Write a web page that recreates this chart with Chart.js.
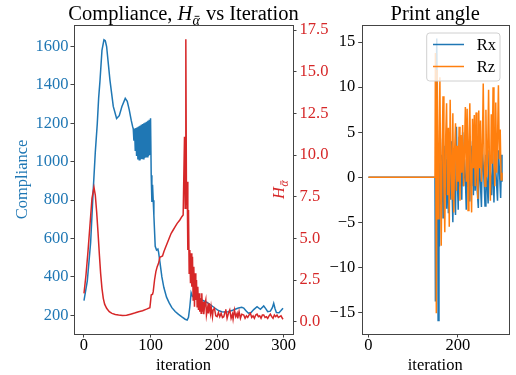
<!DOCTYPE html>
<html>
<head>
<meta charset="utf-8">
<script src="https://cdn.jsdelivr.net/npm/chart.js@4.4.0/dist/chart.umd.min.js"></script>
<style>
  body { margin: 0; background: #fff; }
  #wrap { position: relative; width: 516px; height: 375px; overflow: hidden; background: #fff; }
  canvas { position: absolute; top: 0; }
</style>
</head>
<body>
<div id="wrap">
  <canvas id="left" width="350" height="375" style="left:0"></canvas>
  <canvas id="right" width="198" height="375" style="left:318px"></canvas>
</div>
<script>
// values
const complianceIter = [0, 5, 10, 14, 17, 20, 22, 24, 27, 30, 32, 34, 39, 44, 49, 53, 57, 62, 65, 68, 71, 73,
  74, 75, 76, 77, 78, 79, 80, 81, 82, 83, 84, 85, 86, 87, 88, 89, 90, 91, 92, 93, 94, 95, 96, 97, 98, 99, 100,
  101, 102, 103, 104, 105, 107, 109, 111, 112, 114, 117, 120, 124, 128, 132, 137, 142, 147, 152, 155, 157, 159,
  161, 163, 167, 172, 177, 182, 187, 192, 197, 202, 207, 212, 217, 222, 227, 232, 237, 240, 243, 247, 251, 255,
  260, 265, 270, 273, 276, 280, 283, 285, 287, 289, 293, 296, 299];
const complianceVal = [277, 380, 580, 860, 1050, 1200, 1330, 1420, 1580, 1635, 1630, 1600, 1425, 1288, 1225, 1240, 1288, 1330, 1315, 1270, 1215, 1184,
  1172, 1110, 1173, 1060, 1176, 1030, 1180, 1012, 1184, 1010, 1188, 1012, 1192, 1014, 1196, 1016, 1200, 1019, 1204, 1022, 1208, 1026, 1213, 1030, 1218, 1035, 1226,
  930, 790, 880, 800, 720, 560, 540, 545, 530, 480, 400, 345, 295, 265, 240, 220, 205, 192, 180, 176, 190, 245,
  318, 300, 289, 290, 280, 272, 263, 250, 237, 225, 219, 217, 219, 225, 232, 238, 242, 238, 225, 211, 215, 230,
  245, 232, 249, 235, 219, 222, 240, 263, 235, 215, 214, 225, 237];

const hIter = [0, 3, 6, 9, 12, 15, 17, 19, 21, 23, 25, 27, 29, 31, 34, 38, 42, 47, 52, 58, 64, 70, 76, 82, 88, 94, 99,
  100, 101, 103, 104, 106, 108, 110, 112, 114, 116, 118, 120, 122, 125, 128, 131, 134, 137, 140, 144, 147, 149, 150,
  151, 152, 153, 154, 155, 156, 157, 158, 159, 160, 161, 162, 163, 164, 165, 166, 167, 168, 169, 170, 171, 172, 173,
  174, 175, 176, 177, 178, 179, 180, 181, 183, 184, 186, 187, 188, 190, 191, 193, 194, 196, 198, 200, 202, 204, 206,
  208, 210, 212, 213, 215, 217, 219, 221, 223, 224, 226, 228, 230, 231, 233, 235, 237, 240, 242, 244, 246, 248, 250,
  252, 254, 256, 258, 260, 262, 264, 266, 268, 270, 272, 274, 276, 278, 280, 282, 284, 286, 288, 290, 292, 294, 296,
  298, 299];
const hVal = [1.7, 2.8, 4.2, 5.8, 7.4, 8.06, 7.6, 6.6, 5.4, 4.1, 2.9, 2.0, 1.4, 1.05, 0.8, 0.6, 0.5, 0.43, 0.4, 0.37, 0.38, 0.45, 0.52, 0.6, 0.66, 0.75, 0.84,
  1.2, 1.6, 1.65, 1.8, 2.5, 3.0, 3.3, 3.5, 3.86, 3.9, 3.94, 4.2, 4.4, 4.7, 5.0, 5.3, 5.5, 5.7, 5.9, 6.1, 6.3, 6.4, 6.4,
  11.1, 6.8, 16.95, 7.0, 8.4, 4.3, 6.7, 2.9, 4.3, 2.3, 4.1, 2.1, 3.9, 1.3, 3.3, 0.9, 2.9, 1.3, 2.5, 0.9, 2.1, 0.7, 1.7,
  0.6, 1.4, 0.5, 1.7, 0.6, 1.2, 0.45, 0.9, 1.3, 0.4, 0.9, 0.5, 1.1, 0.5, 0.9, 0.3, 0.7, 0.8, 0.35, 0.3, 0.55, 0.3, 0.5,
  0.25, 0.3, 0.6, 0.74, 0.2, 0.5, 0.7, 0.2, 0.45, 0.15, 0.7, 0.3, 0.5, 0.2, 0.6, 0.2, 0.45, 0.4, 0.2, 0.35, 0.25, 0.4, 0.5,
  0.25, 0.35, 0.2, 0.4, 0.45, 0.3, 0.35, 0.2, 0.4, 0.4, 0.25, 0.3, 0.2, 0.35, 0.45, 0.3, 0.2, 0.4, 0.3, 0.4, 0.25, 0.3, 0.35,
  0.2, 0.15];

const rxIter = [0, 149, 150, 151, 153, 155, 156, 158, 159, 161, 163, 165, 167, 169, 171, 173, 175, 177, 179, 181, 183,
  185, 187, 189, 191, 193, 195, 197, 199, 201, 203, 205, 207, 209, 211, 213, 215, 217, 219, 221, 223, 225, 227, 229,
  231, 233, 235, 237, 239, 241, 243, 246, 248, 250, 253, 255, 258, 261, 263, 265, 268, 270, 273, 276, 278, 281, 283,
  286, 289, 291, 293, 296, 298, 299];
const rxVal = [0, 0, -13.7, 6, 15.4, -2, -15.9, 3, -7.7, 4.3, -3, 2.5, -4.5, 3.5, -2, 4.0, -3.5, 2, -4.0, 3, -2.5,
  4.0, -1, -5.0, 2.5, -2, -4.2, 5.6, 0, -3.6, 4.5, -1, 3, -2.5, 5.0, -1, 2, 0, -3.6, 3, -1, 2.5, -2.7, 3.5,
  -1, 4.0, -2, 3, -1.5, 4, -1, -3.4, 3, 0, -3.3, 3, 0.5, -3.2, 2.5, 0, -2.9, 3, 0.5, -2, 3, -2.8, 2,
  0, -2.6, 3, 1, -2.3, 2.5, -0.5];

const rzIter = [0, 149, 150, 152, 154, 156, 158, 160, 162, 163, 165, 167, 169, 171, 173, 175, 177, 179, 181, 183, 185,
  187, 189, 191, 193, 195, 197, 199, 201, 203, 205, 207, 209, 211, 213, 215, 217, 219, 221, 223, 225, 227, 229, 231,
  233, 235, 237, 239, 241, 243, 245, 247, 249, 251, 253, 255, 257, 259, 261, 263, 265, 267, 269, 271, 273, 275, 277,
  279, 281, 283, 285, 287, 289, 291, 293, 295, 297, 299];
const rzVal = [0, 0, 13.8, -15.1, 11.9, -4.6, 2.0, 11.1, -2.5, -7.6, 3.0, 9.0, -1.0, -6.1, 4.5, 8.2, -2.0, 5.5, -5.5, 8.6, 1.0,
  -2.5, 7.1, -3.9, 3.0, 6.0, -1.5, 3.5, -0.5, 5.6, -2.6, 4.7, 0.5, 5.8, -1.0, 3.0, 7.8, -0.5, 7.6, -3.7, 4.0, 8.2, 0.0, -3.9,
  6.5, 1.0, 6.9, -1.0, 7.2, 0.5, -2.4, 7.4, 1.0, 6.3, -0.5, 3.0, 10.4, 2.0, -1.0, 7.5, 0.0, 3.0, 9.7, 1.0, -2.6, 7.0, 1.5,
  10.0, 2.0, -1.0, 8.3, 0.5, 4.0, 10.2, 2.0, 5.3, -0.3, 0.5];

// tick labels
const xTicksLeft = [0, 100, 200, 300];
const xTicksRight = [0, 200];
const complianceTicks = [200, 400, 600, 800, 1000, 1200, 1400, 1600];
const hTicks = [0, 2.5, 5, 7.5, 10, 12.5, 15, 17.5];
const angleTicks = [-15, -10, -5, 0, 5, 10, 15];

const blue = '#1f77b4', red = '#d62728', orange = '#ff7f0e', frameColor = '#444';
const fam = '"Liberation Serif", "Times New Roman", serif';

Chart.defaults.font.family = fam;
Chart.defaults.animation = false;

const pts = (xs, ys) => xs.map((x, i) => ({ x: x, y: ys[i] }));
const minus = v => (v < 0 ? '\u2212' + Math.abs(v) : String(v));
const fixTicks = list => s => { s.ticks = list.map(v => ({ value: v })); };

// box around the plot area, like matplotlib spines
const framePlugin = {
  id: 'frame',
  afterDatasetsDraw(chart) {
    const a = chart.chartArea, ctx = chart.ctx;
    ctx.save();
    ctx.strokeStyle = frameColor;
    ctx.lineWidth = 1;
    ctx.strokeRect(Math.round(a.left) + 0.5, Math.round(a.top) + 0.5,
      Math.round(a.right - a.left), Math.round(a.bottom - a.top));
    ctx.restore();
  }
};

function alphaBar(ctx, x, y, size) {
  // alpha with bar on top, italic
  ctx.font = 'italic ' + size + 'px ' + fam;
  ctx.fillText('\u03b1', x, y);
  const w = ctx.measureText('\u03b1').width;
  ctx.beginPath();
  ctx.moveTo(x + w * 0.3, y - size * 0.62);
  ctx.lineTo(x + w * 0.95, y - size * 0.62);
  ctx.lineWidth = 0.9;
  ctx.stroke();
}

const leftText = {
  id: 'leftText',
  afterDraw(chart) {
    const ctx = chart.ctx, a = chart.chartArea;
    ctx.save();
    ctx.fillStyle = '#000';
    ctx.strokeStyle = '#000';
    ctx.textBaseline = 'alphabetic';
    ctx.textAlign = 'left';
    const p1 = 'Compliance, ', p3 = ' vs Iteration';
    ctx.font = '20.5px ' + fam;
    const w1 = ctx.measureText(p1).width, w3 = ctx.measureText(p3).width;
    ctx.font = 'italic 20.5px ' + fam;
    const wH = ctx.measureText('H').width;
    ctx.font = 'italic 14px ' + fam;
    const wA = ctx.measureText('\u03b1').width + 1;
    let x = (a.left + a.right) / 2 - (w1 + wH + wA + w3) / 2;
    const y = 20;
    ctx.font = '20.5px ' + fam;
    ctx.fillText(p1, x, y); x += w1;
    ctx.font = 'italic 20.5px ' + fam;
    ctx.fillText('H', x, y); x += wH;
    alphaBar(ctx, x, y + 5, 14); x += wA;
    ctx.font = '20.5px ' + fam;
    ctx.fillText(p3, x, y);

    // right axis label, drawn where the reference has it
    ctx.translate(284, 199);
    ctx.rotate(-Math.PI / 2);
    ctx.fillStyle = red;
    ctx.strokeStyle = red;
    ctx.font = 'italic 16.5px ' + fam;
    ctx.fillText('H', 0, 0);
    const wh = ctx.measureText('H').width;
    alphaBar(ctx, wh + 0.5, 4, 11.5);
    ctx.restore();
  }
};

const rightText = {
  id: 'rightText',
  afterDraw(chart) {
    const ctx = chart.ctx, a = chart.chartArea;
    ctx.save();
    ctx.fillStyle = '#000';
    ctx.textAlign = 'center';
    ctx.textBaseline = 'alphabetic';
    ctx.font = '20.5px ' + fam;
    ctx.fillText('Print angle', (a.left + a.right) / 2, 20);

    // legend box
    const bx = 108.7, by = 33, bw = 73.3, bh = 48, r = 3;
    ctx.beginPath();
    ctx.roundRect(bx, by, bw, bh, r);
    ctx.fillStyle = 'rgba(255,255,255,0.8)';
    ctx.fill();
    ctx.strokeStyle = '#d0d0d0';
    ctx.lineWidth = 1;
    ctx.stroke();
    const items = chart.data.datasets.slice().sort((p, q) => p.label.localeCompare(q.label));
    items.forEach((ds, i) => {
      const ly = 44.5 + i * 22;
      ctx.beginPath();
      ctx.moveTo(115, ly);
      ctx.lineTo(146, ly);
      ctx.strokeStyle = ds.borderColor;
      ctx.lineWidth = 1.5;
      ctx.stroke();
      ctx.fillStyle = '#000';
      ctx.textAlign = 'left';
      ctx.textBaseline = 'middle';
      ctx.font = '16.5px ' + fam;
      ctx.fillText(ds.label, 158.7, ly + 1);
    });
    ctx.restore();
  }
};

const tickFont = { family: fam, size: 16.5 };
const gridOpts = { drawOnChartArea: false, drawTicks: true, tickLength: 3.5, color: frameColor, tickWidth: 1 };

new Chart(document.getElementById('left'), {
  type: 'line',
  data: {
    datasets: [
      { label: 'Compliance', data: pts(complianceIter, complianceVal), borderColor: blue, borderWidth: 1.5,
        pointRadius: 0, yAxisID: 'y', order: 2 },
      { label: 'H', data: pts(hIter, hVal), borderColor: red, borderWidth: 1.5,
        pointRadius: 0, yAxisID: 'y2', order: 1 }
    ]
  },
  options: {
    responsive: false,
    devicePixelRatio: 1,
    layout: { padding: { top: 25, right: 0, left: 0, bottom: 0 } },
    plugins: { legend: { display: false }, tooltip: { enabled: false } },
    scales: {
      x: {
        type: 'linear', min: -15, max: 314,
        afterBuildTicks: fixTicks(xTicksLeft),
        ticks: { font: tickFont, color: '#000', maxRotation: 0, padding: -2, callback: v => String(v) },
        grid: gridOpts, border: { display: false },
        title: { display: true, text: 'iteration', font: tickFont, color: '#000', padding: { top: 0, bottom: -1 } },
        afterFit: s => { s.height = 41; }
      },
      y: {
        position: 'left', min: 103, max: 1712,
        afterBuildTicks: fixTicks(complianceTicks),
        ticks: { font: tickFont, color: blue, padding: 2, callback: v => String(v) },
        grid: gridOpts, border: { display: false },
        title: { display: true, text: 'Compliance', font: tickFont, color: blue, padding: { top: 13, bottom: 0 } },
        afterFit: s => { s.width = 74; }
      },
      y2: {
        position: 'right', min: -0.74, max: 17.8,
        afterBuildTicks: fixTicks(hTicks),
        ticks: { font: tickFont, color: red, padding: 3, callback: v => v.toFixed(1) },
        grid: gridOpts, border: { display: false },
        afterFit: s => { s.width = 57; }
      }
    }
  },
  plugins: [framePlugin, leftText]
});

new Chart(document.getElementById('right'), {
  type: 'line',
  data: {
    datasets: [
      { label: 'Rx', data: pts(rxIter, rxVal), borderColor: blue, borderWidth: 1.5, pointRadius: 0, order: 2 },
      { label: 'Rz', data: pts(rzIter, rzVal), borderColor: orange, borderWidth: 1.5, pointRadius: 0, order: 1 }
    ]
  },
  options: {
    responsive: false,
    devicePixelRatio: 1,
    layout: { padding: { top: 25, right: 7.3, left: 0, bottom: 0 } },
    plugins: { legend: { display: false }, tooltip: { enabled: false } },
    scales: {
      x: {
        type: 'linear', min: -15, max: 314,
        afterBuildTicks: fixTicks(xTicksRight),
        ticks: { font: tickFont, color: '#000', maxRotation: 0, padding: -2, callback: v => String(v) },
        grid: gridOpts, border: { display: false },
        title: { display: true, text: 'iteration', font: tickFont, color: '#000', padding: { top: 0, bottom: -1 } },
        afterFit: s => { s.height = 41; }
      },
      y: {
        min: -17.4, max: 16.9,
        afterBuildTicks: fixTicks(angleTicks),
        ticks: { font: tickFont, color: '#000', padding: 3, callback: minus },
        grid: gridOpts, border: { display: false },
        afterFit: s => { s.width = 43.7; }
      }
    }
  },
  plugins: [framePlugin, rightText]
});
</script>
</body>
</html>
